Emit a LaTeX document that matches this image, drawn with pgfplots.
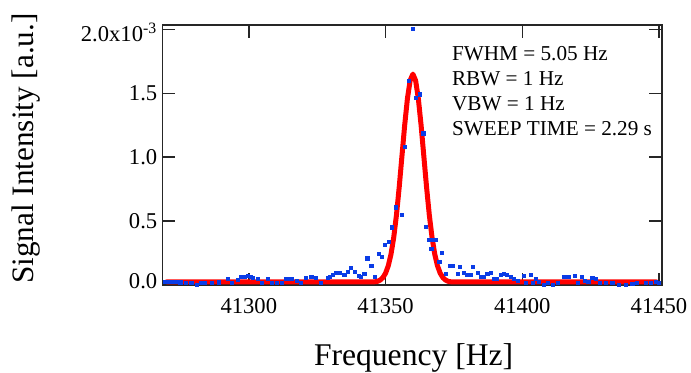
\documentclass[border=0pt]{standalone}
\usepackage{pgfplots}
\pgfplotsset{compat=1.18}
\usepackage{fontspec}
\setmainfont{Liberation Serif}
\definecolor{dotblue}{RGB}{10,60,230}
\begin{document}
\begin{tikzpicture}
\useasboundingbox (-81.35pt,-43.5pt) rectangle (264.15pt,142.5pt);
\begin{axis}[at={(0,0)}, anchor=south west, scale only axis,
  width=249.5pt, height=130pt,
  xmin=41268.5, xmax=41451, ymin=0, ymax=2.034,
  scaled x ticks=false, scaled y ticks=false,
  xtick={41300,41350,41400,41450},
  xticklabels={41300,41350,41400,41450},
  ytick={0,0.5,1,1.5,2},
  yticklabels={{\raisebox{1.85pt}[\height][\depth]{0.0}},0.5,1.0,1.5,{\raisebox{-1.6pt}[\height][\depth]{2.0x10\textsuperscript{-3}}}},
  tick align=inside, major tick length=6.25pt, minor tick num=0,
  axis line style={line width=0.8pt, black!85},
  every tick/.style={black!85, line width=0.75pt},
  tick label style={font=\fontsize{11.3}{13}\selectfont},
  xticklabel style={yshift=-3.4pt},
  yticklabel style={xshift=0.8pt},
]
\addplot[red, line width=2.5pt, line join=round, line cap=round] coordinates {
(41270,0.025) (41346,0.025) (41347,0.028) (41348,0.038) (41349,0.057)
(41350,0.092) (41351,0.150) (41352,0.241) (41353,0.373) (41354,0.549)
(41355,0.766) (41356,1.009) (41357,1.250) (41358,1.458) (41359,1.600)
(41360,1.650) (41361,1.600) (41362,1.458) (41363,1.250) (41364,1.009)
(41365,0.766) (41366,0.549) (41367,0.373) (41368,0.241) (41369,0.150)
(41370,0.092) (41371,0.057) (41372,0.038) (41373,0.028) (41374,0.025)
(41449,0.025)
};
\addplot[color=dotblue, only marks, mark=square*, mark size=0.8pt, mark options={draw=dotblue, fill=dotblue, line width=0pt}] coordinates {
(41269.5,0.026) (41270.7,0.026) (41272,0.026) (41273.2,0.026) (41275,0.02)
(41277,0.015) (41279,0.013) (41281,0.0) (41282.7,0.013) (41284,0.018)
(41286.4,0.013) (41289,0.02) (41292.5,0.045) (41293.7,0.013) (41296,0.04)
(41297.3,0.06) (41298.5,0.065) (41299.7,0.07) (41300.8,0.06) (41301.6,0.052)
(41303.4,0.045) (41304.8,0.013) (41307,0.045) (41308.5,0.018) (41310.3,0.018)
(41312,0.018) (41313.8,0.045) (41315.6,0.045) (41317.5,0.03) (41319,0.018)
(41321,0.052) (41322.9,0.06) (41324.7,0.052) (41326.5,0.018) (41328.9,0.052)
(41329.6,0.06) (41330.8,0.078) (41332.0,0.096) (41333.2,0.096) (41335.0,0.078)
(41336.2,0.104) (41337.5,0.13) (41338.7,0.104) (41340.3,0.07) (41341.1,0.06)
(41342.3,0.086) (41343.4,0.208) (41344.9,0.148) (41346.0,0.065) (41347.5,0.242)
(41348.8,0.216) (41349.8,0.31) (41351.2,0.336) (41352.3,0.45) (41353.7,0.607)
(41356.1,0.547) (41357.2,1.08) (41358.5,1.594) (41360.0,2.0) (41361.2,1.466)
(41362.7,1.49) (41363.9,1.185) (41364.9,0.456) (41366.1,0.35) (41366.8,0.28)
(41367.3,0.35) (41368.5,0.35) (41369.7,0.18) (41370.7,0.25) (41372.2,0.086)
(41373.6,0.148) (41374.8,0.148) (41376.4,0.086) (41377.2,0.138) (41378.8,0.096)
(41380,0.078) (41381.3,0.078) (41382.1,0.138) (41383.7,0.091) (41384.9,0.06)
(41386.1,0.06) (41387.3,0.086) (41388.6,0.091) (41389.6,0.045) (41390.6,0.045)
(41392.2,0.078) (41393.4,0.086) (41394.5,0.078) (41395.8,0.06) (41397,0.045)
(41398.5,0.03) (41400.7,0.07) (41401.5,0.013) (41403.2,0.078) (41403.8,0.013)
(41405,0.045) (41406.2,0.026) (41408,0.0) (41409.3,0.013) (41411.1,0.0)
(41413,0.018) (41415.3,0.06) (41416.2,0.06) (41417.2,0.06) (41419.4,0.07)
(41420.5,0.013) (41421.8,0.06) (41423,0.03) (41424.2,0.026) (41425.7,0.052)
(41426.9,0.045) (41428.5,0.018) (41430.5,0.013) (41433,0.018) (41435.4,0.0)
(41437.9,0.0) (41440.3,0.008) (41442,0.018) (41445.2,0.018) (41447,0.018)
(41448.8,0.026) (41450,0.018)
};
\end{axis}
\node[rotate=90, anchor=base, font=\fontsize{15.6}{18}\selectfont] at (-64.6pt,68.25pt) {Signal Intensity [a.u.]};
\node[anchor=base, font=\fontsize{15.8}{18}\selectfont] at (125.45pt,-40pt) {Frequency [Hz]};
\begin{scope}[every node/.style={anchor=base west, inner sep=0pt, font=\fontsize{10.6}{13}\selectfont}]
\node at (144.5pt,112.5pt) {FWHM = 5.05 Hz};
\node at (144.5pt,100pt) {RBW = 1 Hz};
\node at (144.5pt,87.5pt) {VBW = 1 Hz};
\node at (144.5pt,75pt) {SWEEP TIME = 2.29 s};
\end{scope}
\end{tikzpicture}
\end{document}
